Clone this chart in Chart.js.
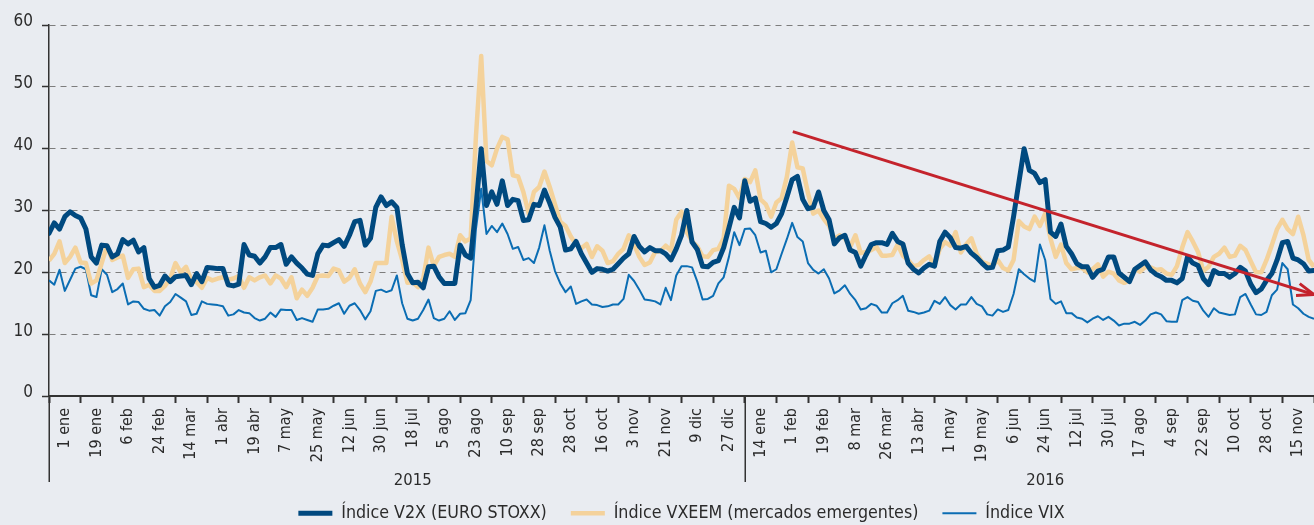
<!DOCTYPE html>
<html>
<head>
<meta charset="utf-8">
<script src="https://cdn.jsdelivr.net/npm/chart.js@4.4.1/dist/chart.umd.min.js"></script>
<style>
html,body{margin:0;padding:0;background:#E9ECF1;}
#wrap{width:1314px;height:525px;position:relative;}
</style>
</head>
<body>
<div id="wrap"><canvas id="chart"></canvas></div>
<script>
// ---- tick labels (one every 18 days) ----
const xLabels = ['1 ene','19 ene','6 feb','24 feb','14 mar','1 abr','19 abr','7 may','25 may','12 jun',
  '30 jun','18 jul','5 ago','23 ago','10 sep','28 sep','28 oct','16 oct','3 nov','21 nov','9 dic','27 dic',
  '14 ene','1 feb','19 feb','8 mar','26 mar','13 abr','1 may','19 may','6 jun','24 jun','12 jul','30 jul',
  '17 ago','4 sep','22 sep','10 oct','28 oct','15 nov'];
const yearLabels = ['2015', '2016'];
const yearBounds = [0, 22, 40];          // label index where each year starts / ends
const pointsPerLabel = 6;                // one value every 3 days

// ---- series values ----
const v2x = [
  26.3,28,27,29,29.8,29.2, 28.8,27,22.5,21.5,24.4,24.3, 22.5,23,25.3,24.6,25.2,23.3, 24,19,17.6,17.9,19.4,18.5,
  19.3,19.4,19.5,18,19.8,18.5, 20.8,20.7,20.6,20.6,18,17.8, 18.1,24.5,22.8,22.6,21.5,22.5, 24,24,24.5,21.3,22.5,21.5,
  20.7,19.7,19.5,23,24.4,24.3, 24.8,25.3,24.2,26,28.2,28.4, 24.4,25.5,30.5,32.2,30.8,31.4, 30.5,24.5,19.8,18.3,18.4,17.5,
  20.9,21,19.3,18.2,18.2,18.2, 24.4,22.8,22.3,30.5,40,30.8, 33,31,34.8,30.8,31.8,31.6, 28.4,28.5,31,30.8,33.3,31.2,
  28.9,27.3,23.6,23.8,25,23, 21.5,20,20.6,20.5,20.2,20.5, 21.4,22.3,23,25.8,24.2,23.3, 24,23.5,23.5,23,22,23.8,
  26,30,24.9,23.7,21,20.9, 21.6,21.9,24,27.2,30.5,28.8, 34.8,31.5,32,28.2,27.9,27.3, 27.9,29.5,32.2,35,35.5,31.8,
  30.3,30.5,33,30,28.5,24.6, 25.6,26,23.6,23.2,21,22.8, 24.5,24.8,24.8,24.5,26.3,25, 24.6,21.5,20.5,19.9,20.7,21.3,
  21,25,26.5,25.6,24,23.9, 24.2,23.1,22.4,21.5,20.7,20.8, 23.5,23.6,24.1,29,34.5,40, 36.5,36,34.5,35,26.5,25.8,
  27.8,24.2,23,21.4,20.9,20.9, 19.2,20.2,20.5,22.5,22.5,19.9, 19.2,18.5,20.5,21.1,21.7,20.4, 19.7,19.3,18.7,18.7,18.3,19,
  22.5,21.5,21.1,19,18,20.3, 19.8,19.8,19.2,19.8,20.8,20.2, 18.1,16.7,17.3,18.7,19.8,22, 24.8,25,22.3,22,21.4,20.2,
  20.3
];
const vxeem = [
  21.9,23,25,21.5,22.5,24, 21.6,21.5,18.2,18.7,21.5,24.3, 22,22.4,22.7,19.1,20.5,20.6, 17.6,18,17,17,17.8,19,
  21.5,20,20.9,18.8,18.4,17.5, 19.1,18.7,19,19.2,18.8,19, 19.4,17.5,19.2,18.7,19.2,19.5, 18.2,19.5,19,17.6,19.2,15.8,
  17.2,16.2,17.5,19.4,19.5,19.4, 20.6,20.3,18.5,19.1,20.5,18.2, 16.8,18.5,21.5,21.5,21.5,29, 25,22,18.3,18.4,17.6,19,
  24,21,22.5,22.8,23,22.5, 26,25,25.5,42,55,38, 37.3,40,41.9,41.5,35.7,35.5, 33,29.5,33,33.8,36.3,33.8,
  31,28.2,27.5,25.8,24.5,23.9, 24.6,22.5,24.2,23.5,21.5,21.8, 23,23.8,26,24.5,22.5,21.2, 21.6,23.3,23.4,24.3,23.5,28.5,
  29.8,26.5,25,24.2,22.6,22.5, 23.6,23.8,25.5,34,33.5,32, 35.1,34.6,36.5,31.8,31,29, 31.3,32,35.5,41,37,36.8,
  32.8,29.5,30,28.6,27.5,25.4, 26,25.5,24.1,26,23.1,23.3, 23.6,24.1,22.7,22.7,22.8,24.5, 22.7,22,21,21.2,22,22.6,
  21,23.8,24.9,24.3,26.5,23.2, 24.5,25.5,23,21.7,21.4,21, 22,20.7,20.3,22,28.3,27.4, 27,29,27.5,29.5,25.5,22.5,
  24.5,21.5,20.5,20.7,20.7,20, 20.5,21.3,19.3,20.1,19.8,18.7, 18.3,18.7,20.5,20.1,20.9,20.8, 20.4,20.5,19.8,19.6,21,24,
  26.5,25,23.3,20.2,20.9,22.5, 23,24,22.5,22.7,24.3,23.6, 21.8,20,20,22,24.4,27, 28.5,27,26.2,29,26,22,
  20.9
];
const vix = [
  18.7,18,20.4,17,18.8,20.6, 20.9,20.5,16.3,16,20.5,19.6, 16.8,17.3,18.2,14.8,15.3,15.2, 14.1,13.8,13.9,13,14.5,15.2,
  16.5,15.9,15.3,13.1,13.3,15.3, 14.9,14.8,14.7,14.5,13,13.2, 13.9,13.5,13.4,12.6,12.2,12.5, 13.5,12.8,14,13.9,13.9,12.3,
  12.6,12.3,12,14,14,14.1, 14.6,15,13.3,14.6,15,13.9, 12.4,13.7,17,17.2,16.8,17.1, 19.5,15,12.5,12.2,12.5,13.9,
  15.6,12.6,12.2,12.5,13.7,12.3, 13.3,13.4,15.5,27,33.5,26.2, 27.5,26.5,27.9,26.2,23.8,24.1, 22,22.3,21.5,24,27.6,23.5,
  20.2,18.2,16.8,17.7,14.9,15.3, 15.6,14.8,14.7,14.4,14.5,14.8, 14.8,15.7,19.6,18.6,17.2,15.6, 15.5,15.3,14.8,17.5,15.5,19.5,
  21,21,20.8,18.5,15.6,15.7, 16.2,18.2,19.2,22.5,26.5,24.4, 27,27.1,26,23.2,23.5,20, 20.5,23,25.4,28,25.7,25,
  21.5,20.4,19.8,20.5,19,16.6, 17.1,17.9,16.5,15.5,14,14.2, 14.9,14.6,13.5,13.5,15,15.5, 16.2,13.8,13.6,13.3,13.5,13.8,
  15.4,14.9,16,14.7,14,14.8, 14.8,16,14.9,14.5,13.2,13, 14,13.6,13.9,16.5,20.5,19.7, 19,18.5,24.5,22,15.7,14.9,
  15.3,13.4,13.4,12.7,12.5,11.9, 12.5,12.9,12.3,12.8,12.2,11.4, 11.7,11.7,12,11.5,12.2,13.2, 13.5,13.2,12.1,12,12,15.5,
  16,15.4,15.2,13.8,12.8,14.2, 13.5,13.3,13.1,13.2,16,16.5, 14.8,13.2,13.1,13.6,16.3,17.2, 21.5,20.5,14.8,14.2,13.3,12.8,
  12.5
];
// trend arrow annotation, in data units (label index, value)
const trendFrom = [23.52, 42.75];
const trendTo = [40, 16.4];

// ---- styling ----
const FONT = "'DejaVu Sans Condensed','DejaVu Sans',sans-serif";
const TEXT = '#2b2b2b';
const BG = '#E9ECF1';
Chart.defaults.font.family = FONT;
Chart.defaults.font.size = 17;
Chart.defaults.color = TEXT;

const toPoints = arr => arr.map((v, i) => ({x: i / pointsPerLabel, y: v}));

const bgPlugin = {
  id: 'bg',
  beforeDraw(chart) {
    const c = chart.ctx;
    c.save(); c.fillStyle = BG; c.fillRect(0, 0, chart.width, chart.height); c.restore();
  }
};

const arrowPlugin = {
  id: 'trendArrow',
  afterDatasetsDraw(chart) {
    const {ctx: c, scales: {x, y}} = chart;
    const x1 = x.getPixelForValue(trendFrom[0]), y1 = y.getPixelForValue(trendFrom[1]);
    const x2 = x.getPixelForValue(trendTo[0]), y2 = y.getPixelForValue(trendTo[1]);
    const ang = Math.atan2(y2 - y1, x2 - x1);
    const L = 18, spread = 20 * Math.PI / 180;
    c.save();
    c.strokeStyle = '#C4232C'; c.lineWidth = 3; c.lineCap = 'butt'; c.lineJoin = 'miter';
    c.beginPath(); c.moveTo(x1, y1); c.lineTo(x2, y2); c.stroke();
    c.beginPath();
    c.moveTo(x2 - L * Math.cos(ang - spread), y2 - L * Math.sin(ang - spread));
    c.lineTo(x2, y2);
    c.lineTo(x2 - L * Math.cos(ang + spread), y2 - L * Math.sin(ang + spread));
    c.stroke();
    c.restore();
  }
};

const groupPlugin = {
  id: 'yearGroups',
  afterDraw(chart) {
    const {ctx: c, scales: {x}, chartArea} = chart;
    const bottom = chartArea.bottom, lineEnd = bottom + 86;
    c.save();
    c.strokeStyle = '#333'; c.lineWidth = 1.5;
    for (let i = 0; i < yearBounds.length - 1; i++) {
      const px = Math.round(x.getPixelForValue(yearBounds[i])) + 0.25;
      c.beginPath(); c.moveTo(px, bottom); c.lineTo(px, lineEnd); c.stroke();
    }
    c.fillStyle = TEXT; c.font = '16.5px ' + FONT; c.textAlign = 'center'; c.textBaseline = 'middle';
    yearLabels.forEach((lab, i) => {
      const mid = (yearBounds[i] + yearBounds[i + 1]) / 2 + 0.5;
      c.fillText(lab, x.getPixelForValue(mid), bottom + 85);
    });
    c.restore();
  }
};

const common = {pointRadius: 0, pointHoverRadius: 0, tension: 0, borderJoinStyle: 'round', fill: false};

new Chart(document.getElementById('chart'), {
  type: 'line',
  data: {
    datasets: [
      Object.assign({label: 'Índice V2X (EURO STOXX)', data: toPoints(v2x), borderColor: '#00497F',
        backgroundColor: '#00497F', borderWidth: 5, borderCapStyle: 'round'}, common),
      Object.assign({label: 'Índice VXEEM (mercados emergentes)', data: toPoints(vxeem), borderColor: '#F4D29B',
        backgroundColor: '#F4D29B', borderWidth: 4.5}, common),
      Object.assign({label: 'Índice VIX', data: toPoints(vix), borderColor: '#0B6DB3',
        backgroundColor: '#0B6DB3', borderWidth: 2}, common)
    ]
  },
  options: {
    responsive: true, maintainAspectRatio: false, animation: false,
    events: [],
    layout: {padding: {top: 25, left: 0, right: 0, bottom: -7}},
    scales: {
      x: {
        type: 'linear', min: 0, max: xLabels.length,
        afterBuildTicks(s) { s.ticks = Array.from({length: xLabels.length + 1}, (_, i) => ({value: i})); },
        afterFit(s) { s.paddingLeft = 0; s.paddingRight = 0; s.height = 84.3; },
        ticks: {autoSkip: false, minRotation: 90, maxRotation: 90, padding: 5, labelOffset: 15.8,
          color: TEXT, font: {size: 16}, callback: (v, i) => xLabels[i] ?? ''},
        grid: {drawOnChartArea: false, drawTicks: true, tickLength: 7, tickColor: '#333', tickWidth: 2},
        border: {color: '#333', width: 2}
      },
      y: {
        min: 0, max: 60,
        afterFit(s) { s.width = 49; },
        ticks: {stepSize: 10, padding: 9, labelOffset: -3, color: TEXT, font: {size: 17}},
        grid: {color: c => c.tick && c.tick.value === 0 ? 'rgba(0,0,0,0)' : '#7d7d7d', lineWidth: 1,
          drawTicks: true, tickLength: 7, tickColor: '#333', tickWidth: 1.5, tickBorderDash: []},
        border: {color: '#333', width: 1.5, dash: [6, 5]}
      }
    },
    plugins: {
      legend: {position: 'bottom', fullSize: false,
        labels: {usePointStyle: true, pointStyle: 'line', pointStyleWidth: 34, padding: 24,
          color: TEXT, font: {size: 17.7}}},
      tooltip: {enabled: false}
    }
  },
  plugins: [bgPlugin, arrowPlugin, groupPlugin]
});
</script>
</body>
</html>
